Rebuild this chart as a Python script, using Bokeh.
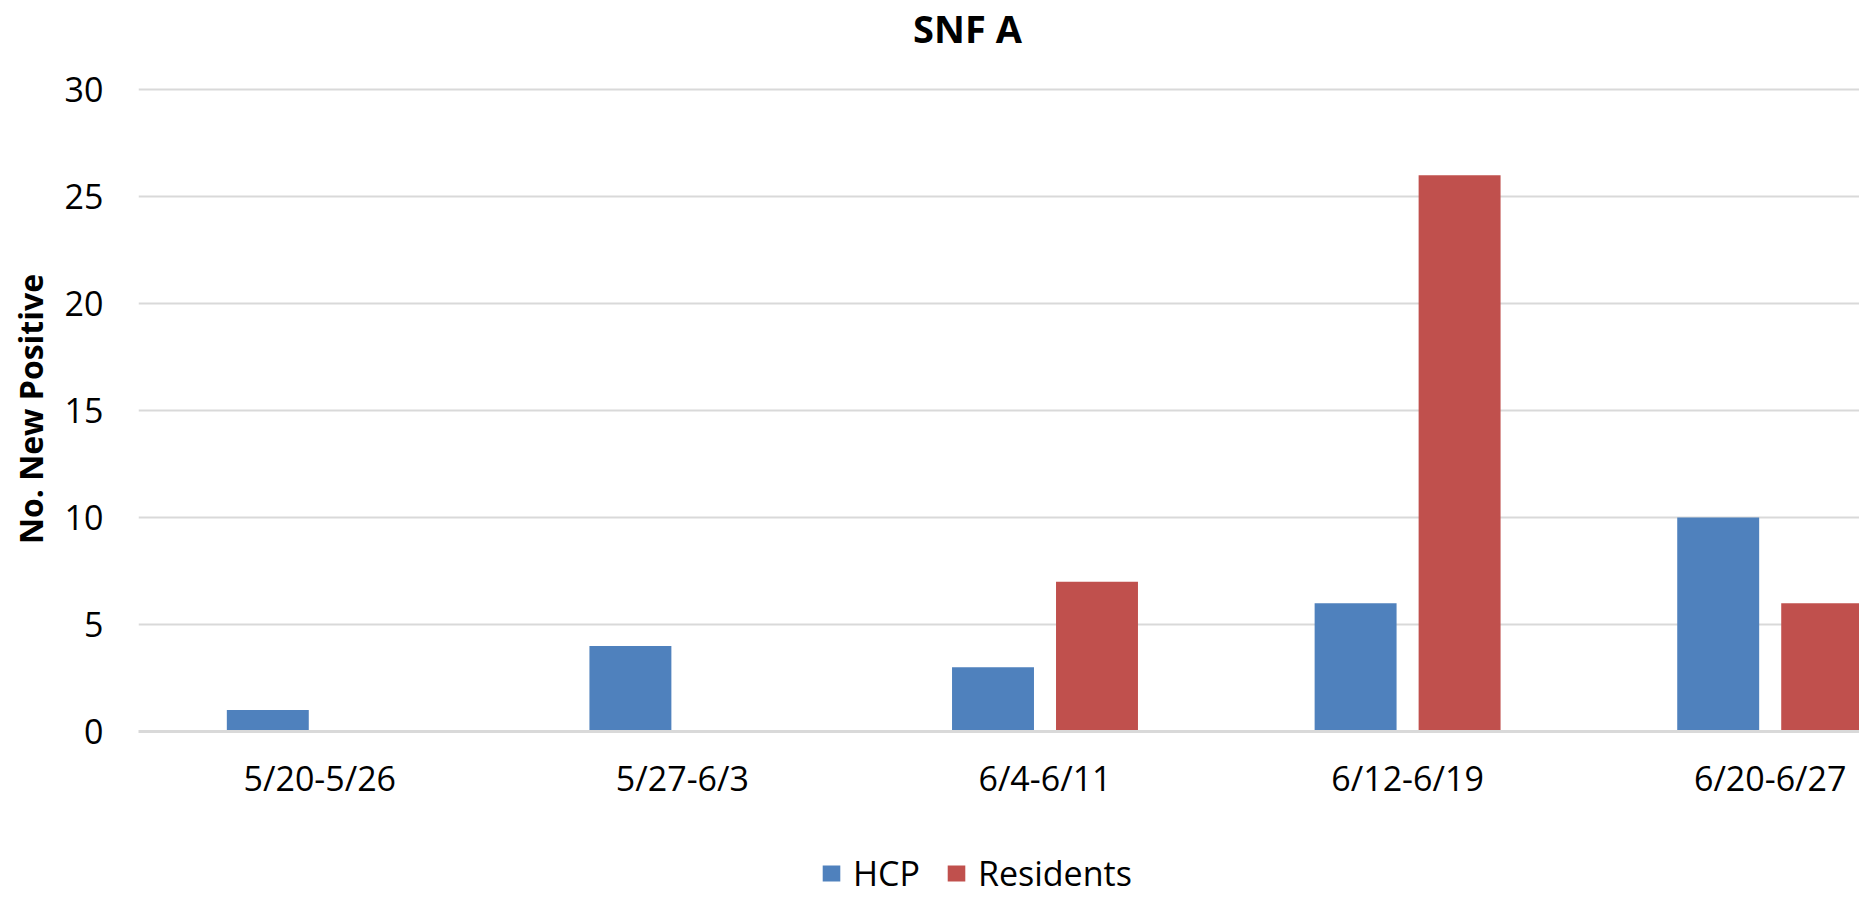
from bokeh.plotting import figure
from bokeh.layouts import column
from bokeh.models import Range1d, FixedTicker, Legend, LegendItem, ColumnDataSource, Label
from bokeh.transform import dodge
from bokeh.embed import file_html
from bokeh.resources import INLINE

# ---- data ----
weeks = ["5/20-5/26", "5/27-6/3", "6/4-6/11", "6/12-6/19", "6/20-6/27"]
hcp = [1, 4, 3, 6, 10]
residents = [0, 0, 7, 26, 6]
y_ticks = [0, 5, 10, 15, 20, 25, 30]
title_text = "SNF A"
y_title = "No. New Positive"
series_names = ["HCP", "Residents"]
colors = ["#4F81BD", "#C0504D"]

# ---- layout ----
W = 1859
TITLE_H, LEG_H = 60, 50
MAIN_H = 897 - TITLE_H - LEG_H
FL = 138
FT = 86 - TITLE_H
FB = TITLE_H + MAIN_H - 731
cat_px = 362.6
x_end = -0.5 + (W - FL) / cat_px
bar_w = 0.226
off = 0.1434
FONT = "Open Sans"

src = ColumnDataSource(dict(x=list(range(len(weeks))), hcp=hcp, res=residents))


def blank_fig(h, **kw):
    f = figure(width=W, height=h, output_backend="svg", toolbar_location=None,
               x_axis_type=None, y_axis_type=None, min_border=0, **kw)
    f.outline_line_color = None
    f.xgrid.grid_line_color = None
    f.ygrid.grid_line_color = None
    f.background_fill_color = "white"
    f.border_fill_color = "white"
    return f


# title strip (its frame left edge is aligned with the main chart's frame)
tf = blank_fig(TITLE_H)
tf.add_layout(Label(x=967 - FL, y=TITLE_H - 27, x_units="screen", y_units="screen",
                    text=title_text, text_font=FONT, text_font_style="bold",
                    text_font_size="38px", text_align="center",
                    text_baseline="middle", text_color="#000000"))

# main chart
p = figure(width=W, height=MAIN_H, output_backend="svg", toolbar_location=None,
           x_range=Range1d(-0.5, x_end), y_range=Range1d(0, 30.15),
           min_border_left=FL, min_border_right=0, min_border_top=FT,
           min_border_bottom=FB)
p.background_fill_color = "white"
p.border_fill_color = "white"
p.outline_line_color = None

p.vbar(x=dodge("x", -off, range=p.x_range), top="hcp", width=bar_w,
       source=src, fill_color=colors[0], line_color=None)
p.vbar(x=dodge("x", off, range=p.x_range), top="res", width=bar_w,
       source=src, fill_color=colors[1], line_color=None)

xa = p.xaxis[0]
xa.ticker = FixedTicker(ticks=list(range(len(weeks))))
xa.major_label_overrides = {i: w for i, w in enumerate(weeks)}
xa.major_tick_line_color = None
xa.minor_tick_line_color = None
xa.axis_line_color = "#d9d9d9"
xa.axis_line_width = 3
xa.major_label_text_font = FONT
xa.major_label_text_font_size = "34px"
xa.major_label_text_color = "#000000"
xa.major_label_standoff = 17

ya = p.yaxis[0]
ya.ticker = FixedTicker(ticks=y_ticks)
ya.axis_line_color = None
ya.major_tick_line_color = None
ya.minor_tick_line_color = None
ya.major_label_text_font = FONT
ya.major_label_text_font_size = "34px"
ya.major_label_text_color = "#000000"
ya.major_label_standoff = 29
ya.axis_label = y_title
ya.axis_label_text_font = FONT
ya.axis_label_text_font_style = "bold"
ya.axis_label_text_font_size = "32px"
ya.axis_label_text_color = "#000000"
ya.axis_label_standoff = 10

p.xgrid.grid_line_color = None
p.ygrid.grid_line_color = "#d9d9d9"
p.ygrid.grid_line_width = 2

# legend strip: zero-width proxy bars, only their legend swatches show
lf = blank_fig(LEG_H, x_range=Range1d(-0.5, x_end), y_range=Range1d(-2, -1))
lr1 = lf.vbar(x="x", top="hcp", width=0, source=src,
              fill_color=colors[0], line_color=None)
lr2 = lf.vbar(x="x", top="res", width=0, source=src,
              fill_color=colors[1], line_color=None)
legend = Legend(items=[LegendItem(label=series_names[0], renderers=[lr1]),
                       LegendItem(label=series_names[1], renderers=[lr2])],
                location=(820 - FL, 1), orientation="horizontal",
                label_text_font=FONT, label_text_font_size="34px",
                label_text_color="#000000",
                glyph_width=22, glyph_height=20, label_standoff=11,
                spacing=25, padding=0, margin=0,
                border_line_color=None, background_fill_alpha=0)
lf.add_layout(legend, "center")

layout = column(tf, p, lf, spacing=0)
open("out.html", "w").write(file_html(layout, INLINE))
